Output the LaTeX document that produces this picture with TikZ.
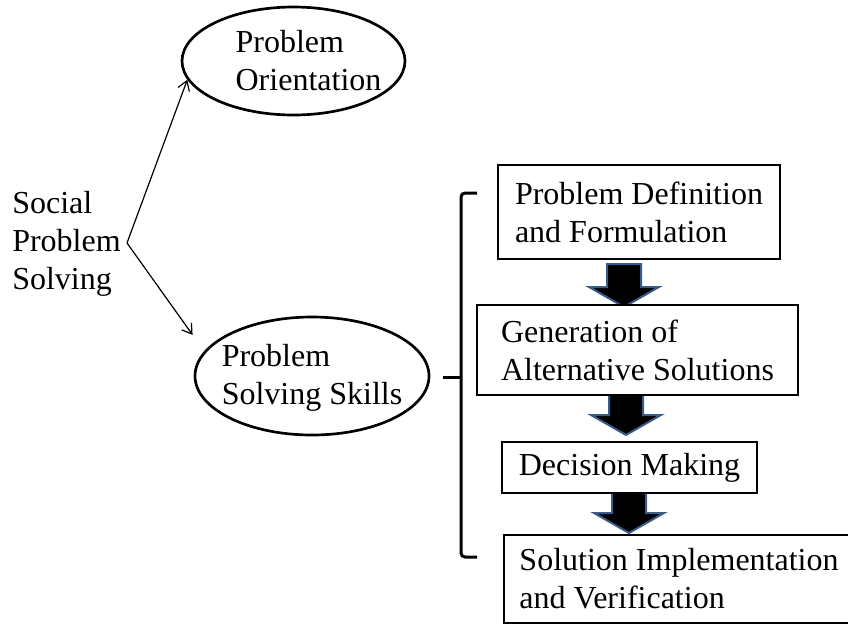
\documentclass[tikz,border=0pt]{standalone}
\usepackage{fontspec}
\setmainfont{Liberation Serif}
\usepackage{tikz}
\usetikzlibrary{arrows.meta}
\definecolor{arrowblue}{RGB}{56,93,138}
\tikzset{
plain text/.style = { align = left, inner sep = 0pt, font = \fontsize{24}{28.5}\selectfont },
step box/.style = { rectangle, draw = black, line width = 2pt, fill = white, align = left, inner sep = 0pt, font = \fontsize{24}{28.5}\selectfont },
oval/.style = { ellipse, draw = black, line width = 2pt, fill = white, inner sep = 0pt },
branch arrow/.style = { -{Straight Barb[length = 7pt, width = 9pt]}, line width = 0.9pt },
bracket/.style = { line width = 2.25pt, rounded corners = 3pt },
}
\tikzset{
pics/down block/.style = {
        code = {
        \path[draw = arrowblue, fill = black, line width = 1.5pt] (0, 0) -- (-35, -20) -- (-17, -20) -- (-17, -#1) -- (17, -#1) -- (17, -20) -- (35, -20) -- cycle;
        }
    }
}
\usetikzlibrary{shapes.geometric}
\begin{document}
\begin{tikzpicture}[x = 0.75pt, y = -0.75pt]
    \clip (0, 0) rectangle (848, 626);
    % left part
    \node[plain text, anchor = west] (sps) at (12, 244) {Social\\Problem\\Solving};
    \coordinate (fork) at (127, 243);
    \node[oval, minimum width = 167.25pt, minimum height = 81pt] (po) at (293.5, 61) {};
    \node[plain text] (po text) at (308.5, 61) {Problem\\Orientation};
    \node[oval, minimum width = 175.5pt, minimum height = 88.5pt] (pss) at (312, 376) {};
    \node[plain text] (pss text) at (312, 378) {Problem\\Solving Skills};
    \draw[branch arrow] (fork) -- (po.190);
    \draw[branch arrow, shorten > = 15pt] (fork) -- (pss.167);
    % bracket
    \draw[bracket] (477, 193) -- (461, 193) -- (461, 557) -- (477, 557);
    \draw[bracket] (443, 377) -- (461, 377);
    % block arrows
    \draw (624, 307) pic{down block = 43};
    \draw (626, 435) pic{down block = 40};
    \draw (629, 533) pic{down block = 40};
    % steps
    \node[step box, minimum width = 211.5pt, minimum height = 70.5pt] (pdf) at (639, 212) {Problem Definition\\and Formulation};
    \node[step box, minimum width = 240.75pt, minimum height = 67.5pt] (gas) at (637.5, 350) {Generation of\\Alternative Solutions};
    \node[step box, minimum width = 191.25pt, minimum height = 38.25pt] (dm) at (629.5, 467.5) {Decision Making};
    \node[step box, minimum width = 262.5pt, minimum height = 66pt] (siv) at (679, 579) {Solution Implementation\\and Verification};
\end{tikzpicture}
\end{document}
